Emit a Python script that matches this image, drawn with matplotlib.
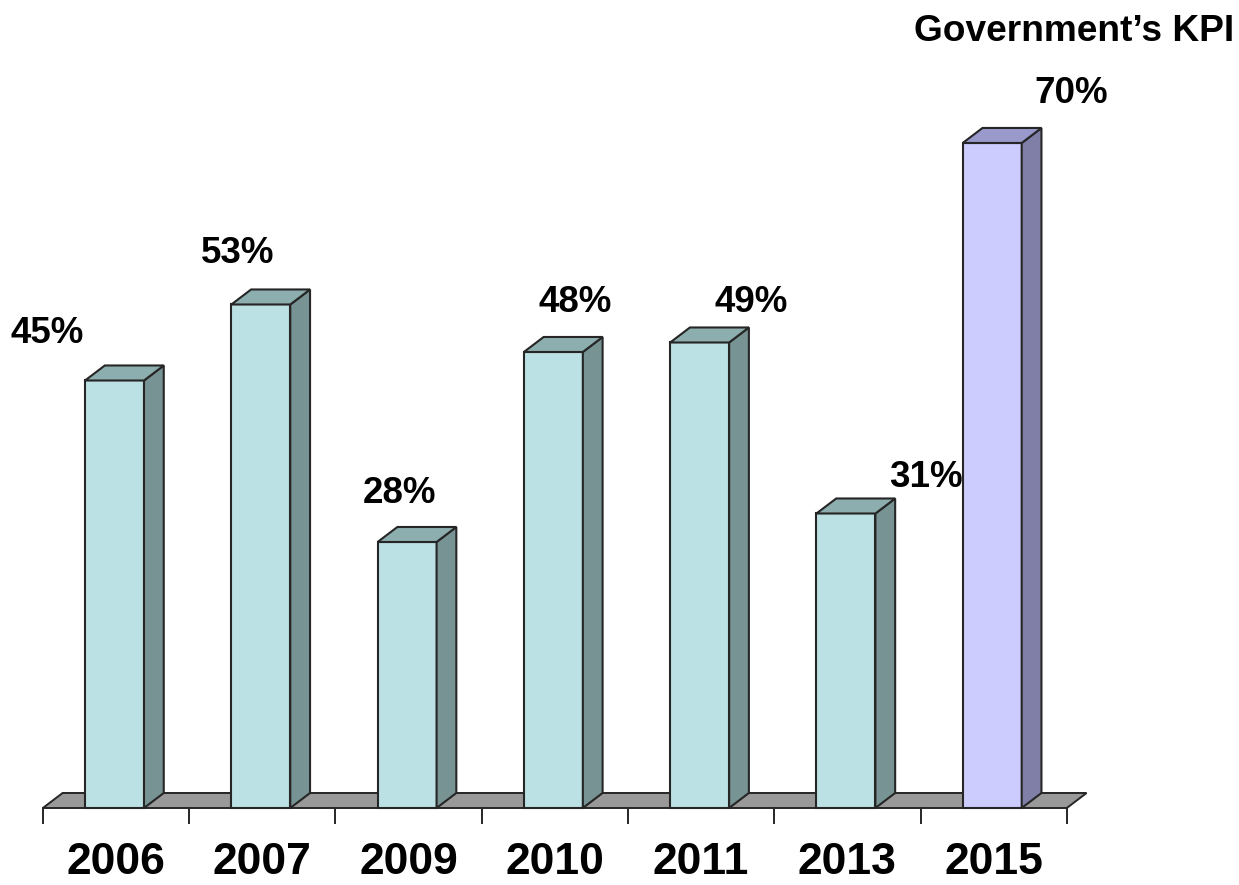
import matplotlib
matplotlib.use('Agg')
import matplotlib.pyplot as plt
from matplotlib.patches import Polygon

plt.rcParams['font.family'] = ['Liberation Sans', 'DejaVu Sans']

years = ['2006', '2007', '2009', '2010', '2011', '2013', '2015']
values = [45, 53, 28, 48, 49, 31, 70]
labels = ['45%', '53%', '28%', '48%', '49%', '31%', '70%']
kpi_note = 'Government’s KPI'

# label placement relative to the bar (x in category units, y in %)
label_dx = [-0.47, -0.17, -0.06, 0.14, 0.34, 0.54, 0.53]
label_dy = [3.95, 4.35, 4.1, 4.2, 3.2, 2.8, 4.2]

# pseudo-3D depth of bars and floor
DX, DY = 0.135, 1.58
WIDTH = 0.403

normal = ('#BCE1E4', '#8DAEAE', '#789393')
target = ('#CCCCFF', '#9999CC', '#7F7FA8')
edge = '#262626'

fig = plt.figure(figsize=(12.39, 8.85), dpi=100)
ax = fig.add_axes([0, 0, 1, 1])
ax.set_xlim(-0.793, 7.677)
ax.set_ylim(-8.105, 85.05)
ax.axis('off')

n = len(years)

# floor
ax.add_patch(Polygon([(-0.5, 0), (n - 0.5, 0), (n - 0.5 + DX, DY), (-0.5 + DX, DY)],
                     closed=True, facecolor='#999999', edgecolor=edge, lw=1.4, zorder=1))

# tick marks under the floor
for i in range(n + 1):
    ax.plot([i - 0.5, i - 0.5], [0, -1.6], color=edge, lw=1.4, zorder=1)

for i, v in enumerate(values):
    front, top, side = target if i == n - 1 else normal
    x0 = i - 0.01 - WIDTH / 2
    x1 = x0 + WIDTH
    ax.add_patch(Polygon([(x0, 0), (x1, 0), (x1, v), (x0, v)], closed=True,
                         facecolor=front, edgecolor=edge, lw=1.5, zorder=3))
    ax.add_patch(Polygon([(x1, 0), (x1 + DX, DY), (x1 + DX, v + DY), (x1, v)], closed=True,
                         facecolor=side, edgecolor=edge, lw=1.5, zorder=3))
    ax.add_patch(Polygon([(x0, v), (x1, v), (x1 + DX, v + DY), (x0 + DX, v + DY)], closed=True,
                         facecolor=top, edgecolor=edge, lw=1.5, zorder=3))

    ax.text(i + label_dx[i], v + label_dy[i], labels[i], ha='center', va='baseline',
            fontsize=26.5, fontweight='bold', zorder=2)
    ax.text(i, -6.95, years[i], ha='center', va='baseline',
            fontsize=32, fontweight='bold', zorder=2)

ax.text(6.548, 80.7, kpi_note, ha='center', va='baseline',
        fontsize=26.7, fontweight='bold', zorder=2)

fig.savefig('out.png', dpi=100)
